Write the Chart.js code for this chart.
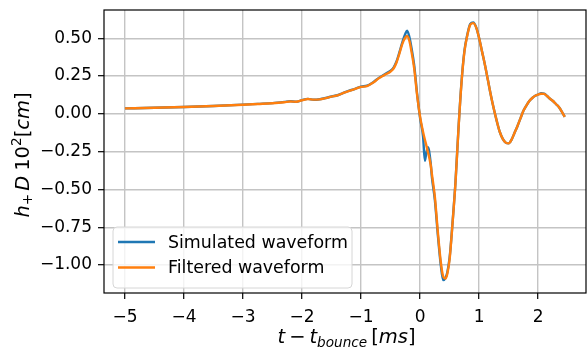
<!DOCTYPE html>
<html>
<head>
<meta charset="utf-8">
<script src="https://cdn.jsdelivr.net/npm/chart.js@4.4.0/dist/chart.umd.min.js"></script>
<style>
  html, body { margin: 0; padding: 0; background: #fff; }
  #wrap { width: 587px; height: 350px; }
</style>
</head>
<body>
<div id="wrap"><canvas id="waveChart" width="587" height="350"></canvas></div>
<script>
// time relative to bounce [ms]
const time = [
  -5.0, -4.5, -4.0, -3.5, -3.0, -2.75, -2.5, -2.3, -2.2, -2.1, -2.0, -1.9, -1.8, -1.7, -1.6, -1.5,
  -1.4, -1.3, -1.2, -1.1, -1.0, -0.9, -0.8, -0.7, -0.6, -0.5, -0.45, -0.4, -0.35, -0.3, -0.25, -0.22,
  -0.18, -0.15, -0.1, -0.05, 0.0, 0.05, 0.08, 0.1, 0.13, 0.15, 0.18, 0.2, 0.25, 0.3, 0.35, 0.39,
  0.43, 0.46, 0.5, 0.55, 0.6, 0.65, 0.7, 0.75, 0.8, 0.85, 0.9, 0.95, 1.0, 1.05, 1.1, 1.15,
  1.2, 1.25, 1.3, 1.35, 1.4, 1.45, 1.5, 1.55, 1.6, 1.65, 1.7, 1.75, 1.8, 1.85, 1.9, 1.95,
  2.0, 2.05, 2.1, 2.15, 2.2, 2.25, 2.3, 2.35, 2.4, 2.45
];
const simulated = [
  0.036, 0.040, 0.045, 0.052, 0.061, 0.066, 0.071, 0.079, 0.084, 0.080, 0.091, 0.099, 0.093, 0.097, 0.105, 0.115,
  0.123, 0.139, 0.153, 0.166, 0.180, 0.186, 0.208, 0.238, 0.262, 0.286, 0.306, 0.346, 0.408, 0.475, 0.530, 0.550,
  0.505, 0.445, 0.320, 0.130, -0.030, -0.150, -0.310, -0.270, -0.220, -0.240, -0.330, -0.420, -0.570, -0.800, -1.000, -1.100,
  -1.085, -1.050, -0.950, -0.715, -0.445, -0.095, 0.205, 0.415, 0.525, 0.595, 0.605, 0.572, 0.500, 0.410, 0.320, 0.220,
  0.120, 0.030, -0.050, -0.120, -0.165, -0.190, -0.195, -0.170, -0.125, -0.080, -0.030, 0.020, 0.055, 0.085, 0.105, 0.120,
  0.128, 0.136, 0.134, 0.118, 0.100, 0.085, 0.065, 0.045, 0.015, -0.020
];
const filtered = [
  0.036, 0.040, 0.045, 0.052, 0.060, 0.065, 0.070, 0.077, 0.082, 0.080, 0.090, 0.098, 0.094, 0.096, 0.104, 0.114,
  0.122, 0.138, 0.152, 0.165, 0.178, 0.184, 0.205, 0.235, 0.258, 0.280, 0.300, 0.340, 0.400, 0.465, 0.505, 0.515,
  0.480, 0.420, 0.300, 0.120, -0.020, -0.120, -0.170, -0.200, -0.250, -0.280, -0.340, -0.400, -0.550, -0.780, -0.980, -1.075,
  -1.090, -1.060, -0.960, -0.720, -0.450, -0.100, 0.200, 0.410, 0.520, 0.590, 0.600, 0.570, 0.500, 0.410, 0.320, 0.220,
  0.120, 0.030, -0.050, -0.120, -0.165, -0.190, -0.195, -0.170, -0.125, -0.080, -0.030, 0.020, 0.055, 0.085, 0.105, 0.120,
  0.128, 0.133, 0.132, 0.118, 0.100, 0.085, 0.065, 0.045, 0.015, -0.020
];
const seriesNames = ['Simulated waveform', 'Filtered waveform'];
const xTicks = [-5, -4, -3, -2, -1, 0, 1, 2];
const yTicks = [-1.0, -0.75, -0.5, -0.25, 0.0, 0.25, 0.5];

const FONT = '"DejaVu Sans", sans-serif';
const BLUE = '#1f77b4';
const ORANGE = '#ff7f0e';

function minus(s) { return s.replace('-', '\u2212'); }

// draw mathtext-like label, centred on 0 along x; p.gap = extra space after piece
function drawMath(ctx, parts, size) {
  const fontOf = p => (p.it ? 'italic ' : '') + (p.sub || p.sup ? size * 0.7 : size).toFixed(1) + 'px ' + FONT;
  let total = 0;
  parts.forEach(p => { ctx.font = fontOf(p); p.w = ctx.measureText(p.t).width + (p.gap || 0); total += p.w; });
  let x = -total / 2;
  parts.forEach(p => {
    ctx.font = fontOf(p);
    const dy = p.sub ? size * 0.2 : (p.sup ? -size * 0.4 : 0);
    ctx.fillText(p.t, x, dy);
    x += p.w;
  });
}

const decorPlugin = {
  id: 'decor',
  afterDraw(chart) {
    const { ctx, chartArea: a } = chart;
    ctx.save();
    // frame
    ctx.strokeStyle = '#000';
    ctx.lineWidth = 1.2;
    ctx.strokeRect(a.left, a.top, a.right - a.left, a.bottom - a.top);

    // legend
    const lx = 113, ly = 227, lw = 239, lh = 61;
    ctx.beginPath();
    ctx.roundRect(lx, ly, lw, lh, 4);
    ctx.fillStyle = 'rgba(255,255,255,0.8)';
    ctx.fill();
    ctx.strokeStyle = '#d6d6d6';
    ctx.lineWidth = 1;
    ctx.stroke();
    [BLUE, ORANGE].forEach((c, i) => {
      const y = 242 + i * 25.5;
      ctx.strokeStyle = c;
      ctx.lineWidth = 2.4;
      ctx.beginPath();
      ctx.moveTo(118, y);
      ctx.lineTo(155, y);
      ctx.stroke();
      ctx.fillStyle = '#000';
      ctx.font = '17.4px ' + FONT;
      ctx.textBaseline = 'middle';
      ctx.textAlign = 'left';
      ctx.fillText(seriesNames[i], 168, y + 1);
    });

    // axis titles
    ctx.fillStyle = '#000';
    ctx.textBaseline = 'alphabetic';
    ctx.textAlign = 'left';
    ctx.save();
    ctx.translate(346.5, 343);
    drawMath(ctx, [
      { t: 't', it: true, gap: 4 }, { t: '\u2212', gap: 4 }, { t: 't', it: true }, { t: 'bounce', it: true, sub: true, gap: 4 },
      { t: '[' }, { t: 'ms', it: true }, { t: ']' }
    ], 19.5);
    ctx.restore();
    ctx.save();
    ctx.translate(28.5, 155);
    ctx.rotate(-Math.PI / 2);
    drawMath(ctx, [
      { t: 'h', it: true }, { t: '+', sub: true, gap: 3 }, { t: 'D', it: true, gap: 5 }, { t: '10' },
      { t: '2', sup: true }, { t: '[' }, { t: 'cm', it: true }, { t: ']' }
    ], 19.5);
    ctx.restore();
    ctx.restore();
  }
};

new Chart(document.getElementById('waveChart'), {
  type: 'line',
  data: {
    datasets: [
      {
        label: seriesNames[0],
        data: time.map((t, i) => ({ x: t, y: simulated[i] })),
        borderColor: BLUE,
        borderWidth: 2.4,
        pointRadius: 0,
        cubicInterpolationMode: 'monotone',
        order: 1
      },
      {
        label: seriesNames[1],
        data: time.map((t, i) => ({ x: t, y: filtered[i] })),
        borderColor: ORANGE,
        borderWidth: 2.4,
        pointRadius: 0,
        cubicInterpolationMode: 'monotone',
        order: 0
      }
    ]
  },
  options: {
    responsive: false,
    animation: false,
    devicePixelRatio: 1,
    layout: { padding: { top: 10, right: 1, left: 0, bottom: 0 } },
    plugins: { legend: { display: false }, tooltip: { enabled: false } },
    scales: {
      x: {
        type: 'linear',
        min: -5.355,
        max: 2.81,
        afterBuildTicks: s => { s.ticks = xTicks.map(v => ({ value: v })); },
        afterFit: s => { s.height = 57; s.paddingLeft = 0; s.paddingRight = 0; },
        grid: { color: '#c4c4c4', lineWidth: 1.4, tickColor: '#000', tickLength: 6, tickWidth: 1.2 },
        border: { display: false },
        ticks: {
          color: '#000', font: { family: FONT, size: 17 }, padding: 8, maxRotation: 0,
          callback: v => minus(String(v))
        }
      },
      y: {
        min: -1.185,
        max: 0.687,
        afterBuildTicks: s => { s.ticks = yTicks.map(v => ({ value: v })); },
        afterFit: s => { s.width = 104; s.paddingTop = 0; s.paddingBottom = 0; },
        grid: { color: '#c4c4c4', lineWidth: 1.4, tickColor: '#000', tickLength: 6, tickWidth: 1.2 },
        border: { display: false },
        ticks: {
          color: '#000', font: { family: FONT, size: 17 }, padding: 6,
          callback: v => minus(v.toFixed(2))
        }
      }
    }
  },
  plugins: [decorPlugin]
});
</script>
</body>
</html>
